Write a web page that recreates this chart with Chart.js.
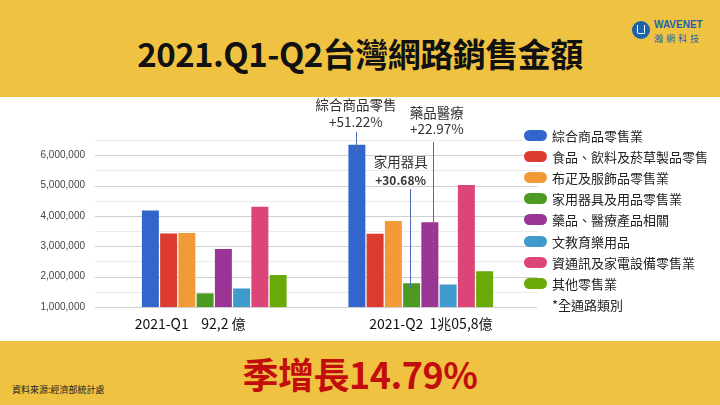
<!DOCTYPE html>
<html>
<head>
<meta charset="utf-8">
<script src="https://cdn.jsdelivr.net/npm/chart.js@4"></script>
<style>
  html, body { margin: 0; padding: 0; }
  body { width: 720px; height: 405px; position: relative; overflow: hidden; background: #fff;
         font-family: "Noto Sans CJK TC", "Noto Sans", sans-serif; }
  .band { position: absolute; left: 0; width: 720px; background: #f0c241; }
  #top { top: 0; height: 97px; }
  #bottom { top: 341px; height: 64px; }
  h1 { position: absolute; top: 30px; left: 0; width: 720px; margin: 0; text-align: center;
       font-size: 33px; font-weight: 700; color: #111; letter-spacing: -0.5px; line-height: 46px; }
  #logo { position: absolute; left: 632px; top: 19px; }
  #logo .mark { position: absolute; left: 0; top: 2px; width: 18px; height: 18px; border-radius: 50%; background: #1b63ad; }
  #logo .mark span { position: absolute; left: 5px; top: 4px; width: 6px; height: 8px; border: 1.5px solid #fff; border-top: none; border-radius: 0 0 2px 2px; }
  #logo .en { position: absolute; left: 22px; top: 0; font: 700 10px "Liberation Sans", sans-serif; color: #1b63ad; }
  #logo .zh { position: absolute; left: 22px; top: 13px; font-size: 9px; color: #1b63ad; letter-spacing: 3px; white-space: nowrap; }
  #growth { position: absolute; top: 350px; left: 0; width: 720px; text-align: center; font-size: 36px;
            font-weight: 700; color: #c30d0d; line-height: 46px; letter-spacing: -0.5px; }
  #source { position: absolute; left: 12px; top: 383px; font-size: 9px; color: #222; }
  #wrap { position: absolute; left: 0; top: 97px; width: 720px; height: 244px; }
  #legend { position: absolute; left: 524px; top: 125px; }
  .row { height: 21.1px; display: flex; align-items: center; font-size: 13px; color: #222; white-space: nowrap; }
  .sw { width: 23px; height: 11px; border-radius: 6px; margin-right: 5px; }
  .nosw { width: 28px; }
</style>
</head>
<body>
<div class="band" id="top"></div>
<h1>2021.Q1-Q2台灣網路銷售金額</h1>
<div id="logo"><div class="mark"><span></span></div><div class="en">WAVENET</div><div class="zh">瀚網科技</div></div>
<div id="wrap"><canvas id="salesChart"></canvas></div>
<div id="legend"></div>
<div class="band" id="bottom"></div>
<div id="growth">季增長14.79%</div>
<div id="source">資料來源:經濟部統計處</div>

<script>
// quarters and their totals
const categories = ['2021-Q1', '2021-Q2'];
const totals = ['92,2 億', '1兆05,8億'];

// retail sectors
const industries = ['綜合商品零售業', '食品、飲料及菸草製品零售', '布疋及服飾品零售業', '家用器具及用品零售業',
                    '藥品、醫療產品相關', '文教育樂用品', '資通訊及家電設備零售業', '其他零售業'];
const colors = ['#3366cc', '#dc3b2f', '#f29a38', '#4c9a22', '#9a3595', '#3f9bcb', '#dd4477', '#68ab06'];

// sales (thousand NTD)
const q1Sales = [4180000, 3420000, 3440000, 1450000, 2910000, 1610000, 4300000, 2050000];
const q2Sales = [6340000, 3410000, 3830000, 1780000, 3790000, 1740000, 5020000, 2180000];

// call-outs on Q2 bars
const noteSector = [0, 3, 4];
const noteTitle = ['綜合商品零售', '家用器具', '藥品醫療'];
const notePct = ['+51.22%', '+30.68%', '+22.97%'];

const legendNote = '*全通路類別';

// html legend
const legend = document.getElementById('legend');
industries.forEach((name, i) => {
    legend.insertAdjacentHTML('beforeend',
        '<div class="row"><div class="sw" style="background:' + colors[i] + '"></div>' + name + '</div>');
});
legend.insertAdjacentHTML('beforeend', '<div class="row"><div class="nosw"></div>' + legendNote + '</div>');

// grid lines run a bit wider than the plot area
const wideGrid = {
    id: 'wideGrid',
    beforeDatasetsDraw(chart) {
        const {ctx, scales: {y}} = chart;
        ctx.save();
        y.ticks.forEach(t => {
            const py = Math.round(y.getPixelForValue(t.value)) + 0.5;
            ctx.strokeStyle = t.value % 1000000 === 0 ? '#cfcfcf' : '#ebebeb';
            ctx.lineWidth = 1;
            ctx.beginPath();
            ctx.moveTo(95, py);
            ctx.lineTo(537, py);
            ctx.stroke();
        });
        ctx.restore();
    }
};

// call-out layout: text centre offset, text rows, leader line
const noteLayout = [
    {dx: -1, titleY: 8, pctY: 25, lineX: -1, lineTop: 35, lineBottom: 54, bold: false},
    {dx: -11, titleY: 65, pctY: 83, lineX: -2, lineTop: 92, lineBottom: 191, bold: true},
    {dx: 7, titleY: 16, pctY: 32, lineX: 3, lineTop: 45, lineBottom: 170, bold: false}
];

const callouts = {
    id: 'callouts',
    afterDatasetsDraw(chart) {
        const ctx = chart.ctx;
        ctx.save();
        noteSector.forEach((ds, i) => {
            const bar = chart.getDatasetMeta(ds).data[1];
            const L = noteLayout[i];
            ctx.strokeStyle = '#4a6cb0';
            ctx.lineWidth = 1;
            ctx.beginPath();
            ctx.moveTo(Math.round(bar.x + L.lineX) + 0.5, L.lineTop);
            ctx.lineTo(Math.round(bar.x + L.lineX) + 0.5, L.lineBottom);
            ctx.stroke();
            ctx.fillStyle = '#333';
            ctx.textAlign = 'center';
            ctx.textBaseline = 'middle';
            ctx.font = '13.5px "Noto Sans CJK TC"';
            ctx.fillText(noteTitle[i], bar.x + L.dx, L.titleY);
            ctx.font = L.bold ? 'bold 12px "Noto Sans CJK TC"' : '13.5px "Noto Sans CJK TC"';
            ctx.fillText(notePct[i], bar.x + L.dx, L.pctY);
        });
        ctx.restore();
    }
};

const salesChart = new Chart(document.getElementById('salesChart'), {
    type: 'bar',
    data: {
        labels: categories,
        datasets: industries.map((name, i) => ({
            label: name,
            data: [q1Sales[i], q2Sales[i]],
            backgroundColor: colors[i],
            categoryPercentage: 0.707,
            barPercentage: 0.93
        }))
    },
    options: {
        responsive: true,
        maintainAspectRatio: false,
        animation: false,
        layout: {
            padding: {top: 43, right: 196, left: 0, bottom: 0}
        },
        scales: {
            x: {
                afterFit: s => { s.height = 34; },
                grid: {display: false, drawTicks: false},
                border: {display: false},
                ticks: {
                    padding: 8,
                    color: '#111',
                    font: {family: '"Noto Sans CJK TC"', size: 14},
                    callback: function (v, i) {
                        return i === 0
                            ? categories[0] + '    ' + totals[0] + '\u3000\u3000\u3000  '
                            : '\u3000  ' + categories[1] + '  ' + totals[1];
                    }
                }
            },
            y: {
                min: 1000000,
                max: 6500000,
                afterFit: s => { s.width = 111; },
                grid: {display: false, drawTicks: false},
                border: {display: false},
                ticks: {
                    stepSize: 500000,
                    padding: 26,
                    color: '#444',
                    font: {family: '"Liberation Sans"', size: 10},
                    callback: v => (v % 1000000 === 0 && v < 6500000) ? v.toLocaleString('en-US') : ''
                }
            }
        },
        plugins: {
            legend: {display: false},
            tooltip: {enabled: false}
        }
    },
    plugins: [wideGrid, callouts]
});
</script>
</body>
</html>
